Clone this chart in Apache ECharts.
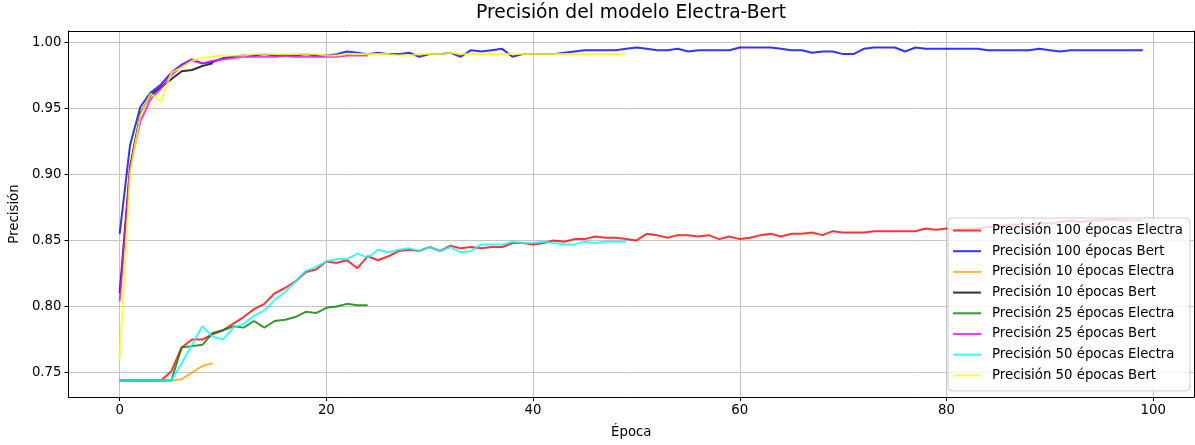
<!DOCTYPE html>
<html>
<head>
<meta charset="utf-8">
<script src="https://cdn.jsdelivr.net/npm/echarts@6/dist/echarts.min.js"></script>
<style>html,body{margin:0;padding:0;background:#fff}#c{width:1195px;height:445px}</style>
</head>
<body>
<div id="c"></div>
<script>
const seriesNames = [
  'Precisión 100 épocas Electra', 'Precisión 100 épocas Bert',
  'Precisión 10 épocas Electra', 'Precisión 10 épocas Bert',
  'Precisión 25 épocas Electra', 'Precisión 25 épocas Bert',
  'Precisión 50 épocas Electra', 'Precisión 50 épocas Bert'
];
const seriesColors = ['#ff0000', '#0000ff', '#ffa500', '#000000', '#008000', '#ff00ff', '#00ffff', '#ffff00'];

const electra100 = [
  0.744, 0.744, 0.744, 0.744, 0.744, 0.751, 0.769, 0.775, 0.775, 0.779,
  0.782, 0.787, 0.792, 0.798, 0.802, 0.810, 0.814, 0.819, 0.826, 0.828,
  0.834, 0.833, 0.835, 0.829, 0.838, 0.835, 0.838, 0.842, 0.843, 0.842,
  0.845, 0.842, 0.846, 0.844, 0.845, 0.844, 0.845, 0.845, 0.848, 0.848,
  0.847, 0.848, 0.850, 0.849, 0.851, 0.851, 0.853, 0.852, 0.852, 0.851,
  0.850, 0.855, 0.854, 0.852, 0.854, 0.854, 0.853, 0.854, 0.851, 0.853,
  0.851, 0.852, 0.854, 0.855, 0.853, 0.855, 0.855, 0.856, 0.854, 0.857,
  0.856, 0.856, 0.856, 0.857, 0.857, 0.857, 0.857, 0.857, 0.859, 0.858,
  0.859, 0.858, 0.859, 0.859, 0.860, 0.861, 0.862, 0.862, 0.862, 0.863,
  0.863, 0.864, 0.865, 0.864, 0.865, 0.865, 0.866, 0.865, 0.865, 0.865
];
const bert100 = [
  0.855, 0.922, 0.951, 0.962, 0.968, 0.977, 0.983, 0.987, 0.984, 0.985,
  0.988, 0.989, 0.990, 0.990, 0.991, 0.990, 0.990, 0.990, 0.991, 0.990,
  0.990, 0.991, 0.993, 0.992, 0.991, 0.992, 0.991, 0.991, 0.992, 0.989,
  0.991, 0.991, 0.992, 0.989, 0.994, 0.993, 0.994, 0.995, 0.989, 0.991,
  0.991, 0.991, 0.991, 0.992, 0.993, 0.994, 0.994, 0.994, 0.994, 0.995,
  0.996, 0.995, 0.994, 0.994, 0.995, 0.993, 0.994, 0.994, 0.994, 0.994,
  0.996, 0.996, 0.996, 0.996, 0.995, 0.994, 0.994, 0.992, 0.993, 0.993,
  0.991, 0.991, 0.995, 0.996, 0.996, 0.996, 0.993, 0.996, 0.995, 0.995,
  0.995, 0.995, 0.995, 0.995, 0.994, 0.994, 0.994, 0.994, 0.994, 0.995,
  0.994, 0.993, 0.994, 0.994, 0.994, 0.994, 0.994, 0.994, 0.994, 0.994
];
const electra10 = [0.744, 0.744, 0.744, 0.744, 0.744, 0.744, 0.745, 0.750, 0.755, 0.757];
const bert10 = [0.810, 0.905, 0.946, 0.960, 0.966, 0.972, 0.978, 0.979, 0.982, 0.984];
const electra25 = [
  0.744, 0.744, 0.744, 0.744, 0.744, 0.744, 0.769, 0.770, 0.771, 0.780,
  0.782, 0.785, 0.784, 0.789, 0.784, 0.789, 0.790, 0.792, 0.796, 0.795,
  0.799, 0.800, 0.802, 0.801, 0.801
];
const bert25 = [
  0.804, 0.905, 0.940, 0.957, 0.965, 0.975, 0.982, 0.986, 0.984, 0.986,
  0.987, 0.988, 0.989, 0.989, 0.989, 0.989, 0.990, 0.989, 0.989, 0.989,
  0.989, 0.989, 0.990, 0.990, 0.990
];
const electra50 = [
  0.744, 0.744, 0.744, 0.744, 0.744, 0.744, 0.757, 0.771, 0.785, 0.777,
  0.775, 0.784, 0.787, 0.793, 0.797, 0.805, 0.811, 0.819, 0.827, 0.830,
  0.834, 0.836, 0.836, 0.840, 0.837, 0.843, 0.841, 0.843, 0.844, 0.842,
  0.845, 0.842, 0.845, 0.841, 0.842, 0.847, 0.847, 0.847, 0.849, 0.848,
  0.848, 0.849, 0.848, 0.847, 0.847, 0.849, 0.848, 0.849, 0.849, 0.849
];
const bert50 = [
  0.760, 0.900, 0.945, 0.961, 0.955, 0.977, 0.981, 0.986, 0.988, 0.989,
  0.990, 0.990, 0.990, 0.991, 0.991, 0.991, 0.991, 0.991, 0.991, 0.991,
  0.990, 0.990, 0.991, 0.991, 0.991, 0.991, 0.991, 0.990, 0.990, 0.991,
  0.991, 0.991, 0.992, 0.991, 0.991, 0.991, 0.991, 0.991, 0.991, 0.991,
  0.991, 0.991, 0.991, 0.991, 0.991, 0.991, 0.991, 0.991, 0.991, 0.991
];

const xTicks = [0, 20, 40, 60, 80, 100];
const yTicks = [0.75, 0.80, 0.85, 0.90, 0.95, 1.00];

const allData = [electra100, bert100, electra10, bert10, electra25, bert25, electra50, bert50];
const FONT = 'DejaVu Sans';
const X_MIN = -4.95, X_MAX = 103.95, Y_MIN = 0.7315, Y_MAX = 1.0085;

const frameAxis = {
  type: 'value', show: true,
  axisLine: { show: true, onZero: false, lineStyle: { color: '#000', width: 1 } },
  axisTick: { show: false }, axisLabel: { show: false }, splitLine: { show: false }
};

const chart = echarts.init(document.getElementById('c'), null, { renderer: 'canvas' });
chart.setOption({
  animation: false,
  backgroundColor: '#ffffff',
  title: {
    text: 'Precisión del modelo Electra-Bert',
    left: 476, top: 4, padding: 0,
    textStyle: { fontFamily: FONT, fontSize: 18.7, fontWeight: 'normal', color: '#000' }
  },
  grid: { left: 68, right: 1, top: 31, bottom: 48 },
  legend: {
    orient: 'vertical', left: 948, top: 218,
    padding: [6, 7, 9, 4],
    itemWidth: 28, itemHeight: 14, itemGap: 7.7,
    backgroundColor: 'rgba(255,255,255,0.8)',
    borderColor: '#cccccc', borderWidth: 1, borderRadius: 4,
    itemStyle: { opacity: 0, borderWidth: 0 },
    textStyle: { fontFamily: FONT, fontSize: 13.3, color: '#000', padding: [0, 0, 0, 6] },
    data: seriesNames
  },
  xAxis: [{
    type: 'value', min: X_MIN, max: X_MAX, position: 'bottom',
    name: 'Época', nameLocation: 'middle', nameGap: 29,
    nameTextStyle: { fontFamily: FONT, fontSize: 13.3, color: '#000' },
    axisLine: { show: true, onZero: false, lineStyle: { color: '#000', width: 1 } },
    axisTick: { show: true, inside: false, length: 4, customValues: xTicks, lineStyle: { color: '#000', width: 1 } },
    axisLabel: { customValues: xTicks, margin: 7, fontFamily: FONT, fontSize: 13.3, color: '#000', formatter: v => String(v) },
    splitLine: { show: true, lineStyle: { color: '#c4c4c4', width: 1 } }
  }, Object.assign({}, frameAxis, { min: X_MIN, max: X_MAX, position: 'top' })],
  yAxis: [{
    type: 'value', min: Y_MIN, max: Y_MAX, position: 'left',
    name: 'Precisión', nameLocation: 'middle', nameGap: 46, nameRotate: 90,
    nameTextStyle: { fontFamily: FONT, fontSize: 13.3, color: '#000' },
    axisLine: { show: true, onZero: false, lineStyle: { color: '#000', width: 1 } },
    axisTick: { show: true, inside: false, length: 4, customValues: yTicks, lineStyle: { color: '#000', width: 1 } },
    axisLabel: { customValues: yTicks, margin: 7, fontFamily: FONT, fontSize: 13.3, color: '#000', formatter: v => v.toFixed(2) },
    splitLine: { show: true, lineStyle: { color: '#c4c4c4', width: 1 } }
  }, Object.assign({}, frameAxis, { min: Y_MIN, max: Y_MAX, position: 'right' })],
  series: allData.map((arr, k) => ({
    name: seriesNames[k],
    type: 'line',
    xAxisIndex: 0, yAxisIndex: 0,
    symbol: 'none',
    showSymbol: false,
    color: seriesColors[k],
    lineStyle: { width: 2, color: seriesColors[k], opacity: 0.8 },
    data: arr.map((v, i) => [i, v])
  }))
});
</script>
</body>
</html>
